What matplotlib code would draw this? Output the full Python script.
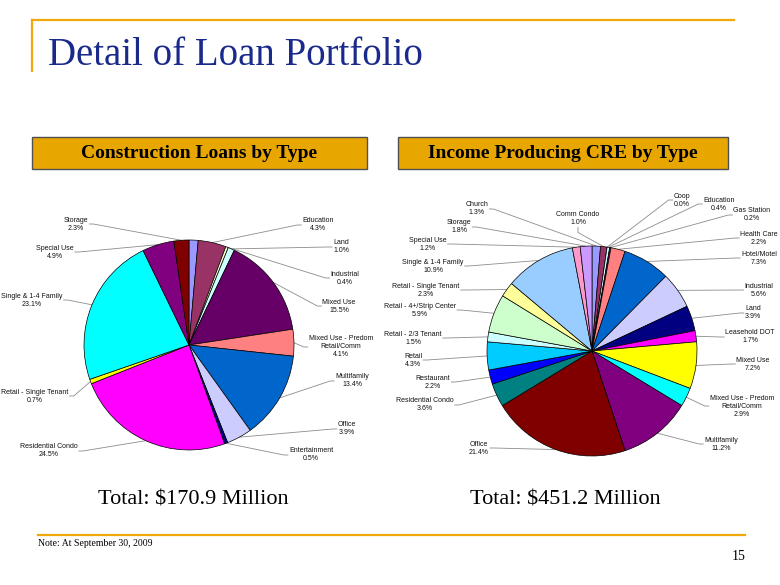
import matplotlib
matplotlib.use("Agg")
import numpy as np
import matplotlib.pyplot as plt
from matplotlib.patches import Rectangle

# Construction loans by type (% of $170.9M); first slice has no label on the slide
con_labels = ["", "Education", "Industrial", "Land", "Mixed Use",
              "Mixed Use - Predom\nRetail/Comm", "Multifamily", "Office",
              "Entertainment", "Residential Condo", "Retail - Single Tenant",
              "Single & 1-4 Family", "Special Use", "Storage"]
con_values = [1.4, 4.3, 0.4, 1.0, 15.5, 4.1, 13.4, 3.9, 0.5, 24.5, 0.7, 23.1, 4.9, 2.3]

# Income producing CRE by type (% of $451.2M)
cre_labels = ["Church", "Comm Condo", "Coop", "Education", "Gas Station",
              "Health Care", "Hotel/Motel", "Industrial", "Land", "Leasehold DOT",
              "Mixed Use", "Mixed Use - Predom\nRetail/Comm", "Multifamily", "Office",
              "Residential Condo", "Restaurant", "Retail", "Retail - 2/3 Tenant",
              "Retail - 4+/Strip Center", "Retail - Single Tenant",
              "Single & 1-4 Family", "Special Use", "Storage"]
cre_values = [1.3, 1.0, 0.0, 0.4, 0.2, 2.2, 7.3, 5.6, 3.9, 1.7, 7.2, 2.9, 11.2,
              21.4, 3.6, 2.2, 4.3, 1.5, 5.9, 2.3, 10.9, 1.2, 1.8]

totals = ["Total: $170.9 Million", "Total: $451.2 Million"]
headers = ["Construction Loans by Type", "Income Producing CRE by Type"]

# Excel 2003 default slice colours
excel_colors = ["#9999FF", "#993366", "#FFFFCC", "#CCFFFF", "#660066", "#FF8080",
                "#0066CC", "#CCCCFF", "#000080", "#FF00FF", "#FFFF00", "#00FFFF",
                "#800080", "#800000", "#008080", "#0000FF", "#00CCFF", "#CCFFFF",
                "#CCFFCC", "#FFFF99", "#99CCFF", "#FF99CC", "#CC99FF"]

# label centres in pixels (x, y from top)
con_label_pos = [None, (318, 225), (345, 278), (341, 247), (339, 306), (341, 347),
                 (352, 381), (347, 429), (311, 455), (49, 451), (35, 396),
                 (32, 300), (55, 252), (76, 224)]
cre_label_pos = [(477, 209), (578, 219), (682, 200), (719, 204), (752, 215),
                 (759, 238), (759, 258), (759, 290), (753, 313), (750, 337),
                 (753, 364), (742, 406), (721, 444), (479, 448), (425, 405),
                 (433, 382), (413, 360), (413, 338), (420, 310), (426, 290),
                 (433, 266), (428, 244), (459, 227)]

W, H = 780, 585
R = 105
orange = "#F0A80A"

fig = plt.figure(figsize=(7.8, 5.85), dpi=100)
ax = fig.add_axes([0, 0, 1, 1])

lab_font = ["Liberation Sans Narrow", "Liberation Sans", "DejaVu Sans"]


def draw_pie(values, labels, center, label_pos):
    cx, cy = center[0], H - center[1]
    wedges, _ = ax.pie(values, colors=excel_colors[:len(values)], startangle=90,
                       counterclock=False, center=(cx, cy), radius=R,
                       wedgeprops=dict(edgecolor="black", linewidth=0.5))
    out = []
    for w, lab, v, pos in zip(wedges, labels, values, label_pos):
        if pos is None:
            continue
        t = ax.text(pos[0], H - pos[1], f"{lab}\n{v:.1f}%", ha="center",
                    va="center", fontsize=5.0, family=lab_font,
                    linespacing=1.2, color="#111111")
        out.append((t, w, cx, cy))
    return out


items = draw_pie(con_values, con_labels, (189, 345), con_label_pos)
items += draw_pie(cre_values, cre_labels, (592, 351), cre_label_pos)

ax.set_xlim(0, W)
ax.set_ylim(0, H)
ax.axis("off")

# leader lines
fig.canvas.draw()
rend = fig.canvas.get_renderer()
inv = ax.transData.inverted()
for t, w, cx, cy in items:
    bb = t.get_window_extent(rend)
    (x0, y0), (x1, y1) = inv.transform([[bb.x0, bb.y0], [bb.x1, bb.y1]])
    th = np.deg2rad((w.theta1 + w.theta2) / 2)
    ex, ey = cx + R * np.cos(th), cy + R * np.sin(th)
    lx, ly = t.get_position()
    if abs(lx - cx) < 0.3 * R and ly > cy:
        xs, ys = [lx, lx, ex], [y0 - 1, y0 - 6, ey]
    elif lx > cx:
        xs, ys = [x0 - 1, x0 - 5, ex], [ly, ly, ey]
    else:
        xs, ys = [x1 + 1, x1 + 5, ex], [ly, ly, ey]
    ax.plot(xs, ys, color="#8C8C8C", lw=0.6, zorder=0.5)

# slide frame
ax.plot([32, 734], [H - 19.5, H - 19.5], color=orange, lw=1.6)
ax.plot([32, 32], [H - 19.5, H - 71], color=orange, lw=1.6)
ax.plot([38, 745], [H - 535, H - 535], color=orange, lw=1.6)

ax.text(48, H - 65, "Detail of Loan Portfolio", fontsize=28, family="Liberation Serif",
        color="#1A2A8C", va="baseline", ha="left")

for (bx0, bx1), txt in zip([(32, 367), (398, 728)], headers):
    ax.add_patch(Rectangle((bx0, H - 169), bx1 - bx0, 32, facecolor="#E8A600",
                           edgecolor="#505050", lw=1.0))
    ax.text((bx0 + bx1) / 2, H - 153, txt, fontsize=14, family="Liberation Serif",
            fontweight="bold", ha="center", va="center", color="black")

for xc, txt in zip([193, 565], totals):
    ax.text(xc, H - 505, txt, fontsize=16, family="Liberation Serif",
            ha="center", va="baseline", color="black")

ax.text(38, H - 543, "Note: At September 30, 2009", fontsize=7,
        family="Liberation Serif", ha="left", va="center")
ax.text(746, H - 557, "15", fontsize=10, family="Liberation Serif",
        ha="right", va="center")

fig.savefig("out.png", dpi=100)
plt.close()
